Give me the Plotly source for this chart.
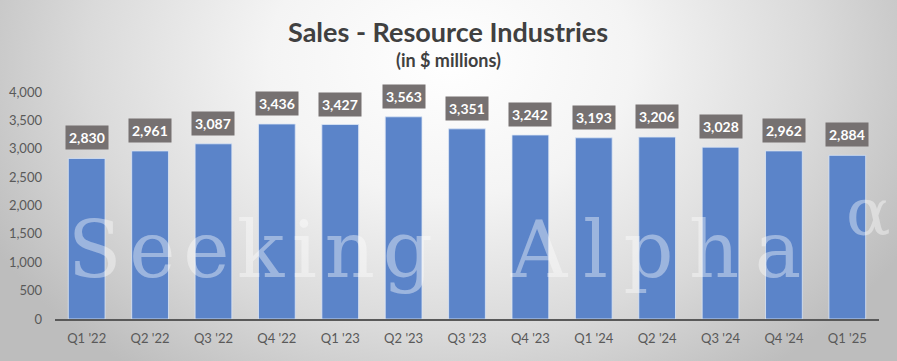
import base64
import plotly.graph_objects as go

quarters = ["Q1 '22", "Q2 '22", "Q3 '22", "Q4 '22", "Q1 '23", "Q2 '23", "Q3 '23",
            "Q4 '23", "Q1 '24", "Q2 '24", "Q3 '24", "Q4 '24", "Q1 '25"]
sales = [2830, 2961, 3087, 3436, 3427, 3563, 3351, 3242, 3193, 3206, 3028, 2962, 2884]
y_ticks = [0, 500, 1000, 1500, 2000, 2500, 3000, 3500, 4000]

W, H = 897, 361
ML, MR, MT, MB = 55, 18, 92, 42
pw, ph = W - ML - MR, H - MT - MB

svg = f'''<svg xmlns="http://www.w3.org/2000/svg" width="{W}" height="{H}" viewBox="0 0 {W} {H}" preserveAspectRatio="none">
<defs><radialGradient id="g" gradientUnits="userSpaceOnUse" cx="450" cy="60" r="520" fx="450" fy="60" gradientTransform="translate(450 60) scale(1 0.75) translate(-450 -60)">
<stop offset="0%" stop-color="#ffffff"/><stop offset="35%" stop-color="#f4f4f4"/>
<stop offset="70%" stop-color="#dadada"/>
<stop offset="100%" stop-color="#bdbdbd"/></radialGradient></defs>
<rect width="{W}" height="{H}" fill="url(#g)"/></svg>'''
src = "data:image/svg+xml;base64," + base64.b64encode(svg.encode()).decode()


def px_x(x):
    return (x - ML) / pw


def px_y(y):
    return (H - MB - y) / ph


fig = go.Figure()
fig.add_trace(go.Bar(
    x=quarters, y=sales,
    marker=dict(color="#5B84C9", line=dict(color="rgba(220,230,245,0.8)", width=1)),
    hoverinfo="skip",
))

for q, v in zip(quarters, sales):
    fig.add_annotation(
        x=q, y=v, text=f"<b>{v:,}</b>", showarrow=False,
        yanchor="bottom", yshift=8,
        font=dict(family="Lato, Open Sans, sans-serif", size=14, color="white"),
        bgcolor="#767171", borderpad=3,
    )

# title + subtitle
fig.add_annotation(
    xref="paper", yref="paper", x=px_x(448), y=px_y(32), yanchor="middle", xanchor="center",
    text="<b>Sales - Resource Industries</b>", showarrow=False,
    font=dict(family="Lato, Open Sans, sans-serif", size=27, color="#404040"),
)
fig.add_annotation(
    xref="paper", yref="paper", x=px_x(448), y=px_y(60), yanchor="middle", xanchor="center",
    text="<b>(in $ millions)</b>", showarrow=False,
    font=dict(family="Lato, Open Sans, sans-serif", size=18, color="#404040"),
)

# watermark
wm_font = dict(family="DejaVu Serif, serif", size=78, color="rgba(255,255,255,0.4)")
fig.add_annotation(
    xref="paper", yref="paper", x=px_x(66), y=px_y(250), yanchor="middle", xanchor="left",
    text="\u200a".join("Seeking"), showarrow=False, font=wm_font,
)
fig.add_annotation(
    xref="paper", yref="paper", x=px_x(508), y=px_y(250), yanchor="middle", xanchor="left",
    text="\u2009".join("Alpha"), showarrow=False, font=wm_font,
)
fig.add_annotation(
    xref="paper", yref="paper", x=px_x(893), y=px_y(212), yanchor="middle", xanchor="right",
    text="α", showarrow=False,
    font=dict(family="DejaVu Serif, serif", size=66, color="rgba(255,255,255,0.4)"),
)

fig.update_layout(
    width=W, height=H,
    margin=dict(l=ML, r=MR, t=MT, b=MB, autoexpand=False),
    paper_bgcolor="#e0e0e0",
    plot_bgcolor="rgba(0,0,0,0)",
    bargap=0.42,
    showlegend=False,
    images=[dict(source=src, xref="paper", yref="paper",
                 x=-ML / pw, y=(ph + MT) / ph, sizex=W / pw, sizey=H / ph,
                 xanchor="left", yanchor="top", sizing="stretch", layer="below")],
    xaxis=dict(
        tickfont=dict(family="Lato, Open Sans, sans-serif", size=13, color="#595959"),
        showline=True, linecolor="#595959", linewidth=2,
        ticks="", showgrid=False, fixedrange=True, automargin=False,
        ticklabelstandoff=6,
    ),
    yaxis=dict(
        range=[0, 4000], tickvals=y_ticks,
        tickformat=",", showgrid=False, zeroline=False,
        tickfont=dict(family="Lato, Open Sans, sans-serif", size=13, color="#595959"),
        ticks="", fixedrange=True, automargin=False, ticklabelstandoff=12,
    ),
)

fig.write_html("out.html", config={"displayModeBar": False},
               post_script="document.body.style.margin='0';")
